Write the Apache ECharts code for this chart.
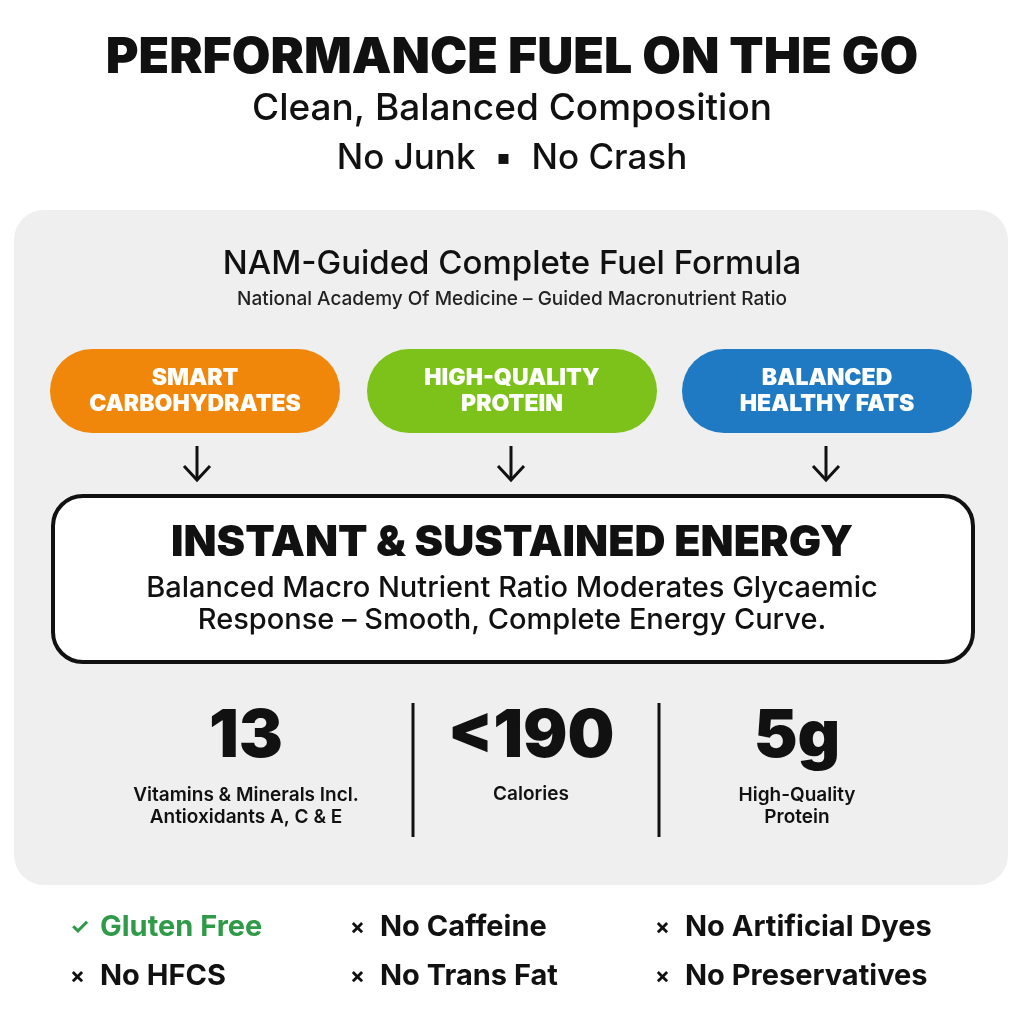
<!DOCTYPE html>
<html><head><meta charset="utf-8">
<script src="https://cdn.jsdelivr.net/npm/echarts@6/dist/echarts.min.js"></script>
<style>html,body{margin:0;padding:0;background:#fff}#c{width:1024px;height:1024px}</style>
</head><body><div id="c"></div>
<script>
const headline = "PERFORMANCE FUEL ON THE GO";
const subLines = ["Clean, Balanced Composition", "No Junk  \u25AA  No Crash"];
const formulaTitle = "NAM-Guided Complete Fuel Formula";
const formulaSub = "National Academy Of Medicine \u2013 Guided Macronutrient Ratio";
const pillLabels = ["SMART\nCARBOHYDRATES", "HIGH-QUALITY\nPROTEIN", "BALANCED\nHEALTHY FATS"];
const pillColors = ["#f0870b", "#7dc11b", "#1f7ac3"];
const energyTitle = "INSTANT & SUSTAINED ENERGY";
const energyBody = ["Balanced Macro Nutrient Ratio Moderates Glycaemic", "Response \u2013 Smooth, Complete Energy Curve."];
const statValues = ["13", "<190", "5g"];
const statLabels = ["Vitamins & Minerals Incl.\nAntioxidants A, C & E", "Calories", "High-Quality\nProtein"];
const features = [["\u2713", "Gluten Free", true], ["\u00D7", "No Caffeine", false], ["\u00D7", "No Artificial Dyes", false],
                  ["\u00D7", "No HFCS", false], ["\u00D7", "No Trans Fat", false], ["\u00D7", "No Preservatives", false]];

const F = "Inter, 'Noto Sans', sans-serif";
const chart = echarts.init(document.getElementById('c'));
const g = [];
const txt = (x, y, s, size, weight, color, align) => g.push({type:'text', x, y, style:{text:s, fontSize:size, fontWeight:weight, fill:color||'#111', fontFamily:F, align:align||'center', verticalAlign:'middle', lineHeight:size*1.15}});
txt(512, 58, headline, 50, 900);
txt(512, 109, subLines[0], 37, 500);
txt(512, 158, subLines[1], 35, 500);
g.push({type:'rect', shape:{x:14, y:210, width:994, height:675, r:30}, style:{fill:'#efefef'}});
txt(512, 264, formulaTitle, 33, 500);
txt(512, 299, formulaSub, 19, 500, '#222');
const pillX = [50, 367, 682], centers = [197, 511, 826];
pillLabels.forEach((p, i) => {
  g.push({type:'rect', shape:{x:pillX[i], y:349, width:290, height:84, r:42}, style:{fill:pillColors[i]}});
  txt(pillX[i] + 145, 391, p, 23, 900, '#fff');
  const cx = centers[i];
  g.push({type:'polyline', shape:{points:[[cx,446],[cx,480]]}, style:{stroke:'#111', lineWidth:3}});
  g.push({type:'polyline', shape:{points:[[cx-13,466],[cx,480],[cx+13,466]]}, style:{stroke:'#111', lineWidth:3, fill:null}});
});
g.push({type:'rect', shape:{x:53, y:496, width:920, height:166, r:30}, style:{fill:'#fff', stroke:'#111', lineWidth:4}});
txt(512, 543, energyTitle, 43, 900);
txt(512, 588, energyBody[0], 29, 500);
txt(512, 620, energyBody[1], 29, 500);
const statX = [246, 531, 797];
statValues.forEach((v, i) => {
  txt(statX[i], 737, v, 66, 900);
  txt(statX[i], statLabels[i].includes('\n') ? 806 : 794, statLabels[i], 19, 600);
});
[413, 659].forEach(x => g.push({type:'line', shape:{x1:x, y1:703, x2:x, y2:837}, style:{stroke:'#111', lineWidth:3}}));
const fx = [70, 350, 655], fy = [927, 976];
features.forEach((f, i) => {
  const x = fx[i % 3], y = fy[Math.floor(i / 3)];
  const col = f[2] ? '#2f9a48' : '#111';
  txt(x, y, f[0], 22, 700, col, 'left');
  txt(x + 30, y, f[1], 29, 700, col, 'left');
});
chart.setOption({animation:false, graphic:g});
</script></body></html>
